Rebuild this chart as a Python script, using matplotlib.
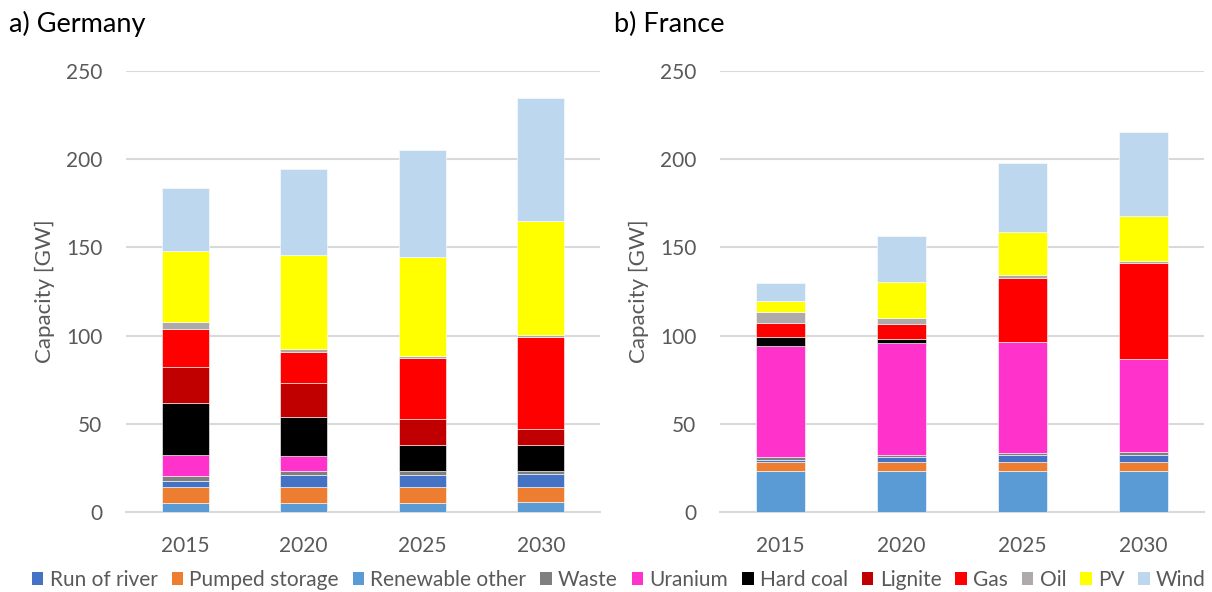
import matplotlib
matplotlib.use("Agg")
import matplotlib.pyplot as plt
from matplotlib.patches import Patch
import numpy as np

plt.rcParams['font.family'] = ['Lato', 'DejaVu Sans']

years = ["2015", "2020", "2025", "2030"]
# stack order bottom-up
stack_names = ["Renewable other", "Pumped storage", "Run of river", "Waste", "Uranium",
               "Hard coal", "Lignite", "Gas", "Oil", "PV", "Wind"]
legend_order = ["Run of river", "Pumped storage", "Renewable other", "Waste", "Uranium",
                "Hard coal", "Lignite", "Gas", "Oil", "PV", "Wind"]
colors = {
    "Run of river": "#4472C4",
    "Pumped storage": "#ED7D31",
    "Renewable other": "#5B9BD5",
    "Waste": "#7F7F7F",
    "Uranium": "#FF33CC",
    "Hard coal": "#000000",
    "Lignite": "#C00000",
    "Gas": "#FF0000",
    "Oil": "#AEAAAA",
    "PV": "#FFFF00",
    "Wind": "#BDD7EE",
}

# Germany (GW)
de_renewable_other = [5.3, 5.3, 5.3, 5.5]
de_pumped_storage = [8.9, 8.9, 8.9, 8.8]
de_run_of_river = [3.2, 7.0, 7.0, 7.0]
de_waste = [3.2, 2.3, 2.1, 1.9]
de_uranium = [11.9, 8.3, 0.0, 0.0]
de_hard_coal = [29.5, 22.3, 14.9, 14.9]
de_lignite = [20.4, 18.9, 14.4, 9.1]
de_gas = [21.5, 17.9, 34.6, 52.2]
de_oil = [3.8, 1.7, 1.3, 1.1]
de_pv = [40.1, 53.1, 56.1, 64.3]
de_wind = [35.7, 48.9, 60.5, 69.7]

# France (GW)
fr_renewable_other = [23.4, 23.4, 23.4, 23.4]
fr_pumped_storage = [5.1, 5.1, 5.1, 5.1]
fr_run_of_river = [1.0, 2.8, 4.0, 4.0]
fr_waste = [1.5, 1.0, 1.1, 1.3]
fr_uranium = [62.9, 63.3, 62.7, 53.1]
fr_hard_coal = [5.1, 2.6, 0.0, 0.0]
fr_lignite = [0.0, 0.0, 0.0, 0.0]
fr_gas = [8.3, 8.5, 36.1, 54.0]
fr_oil = [6.0, 3.2, 1.7, 1.3]
fr_pv = [6.1, 20.6, 24.5, 25.5]
fr_wind = [10.2, 25.9, 39.5, 47.6]

de = dict(zip(stack_names, [de_renewable_other, de_pumped_storage, de_run_of_river, de_waste,
                            de_uranium, de_hard_coal, de_lignite, de_gas, de_oil, de_pv, de_wind]))
fr = dict(zip(stack_names, [fr_renewable_other, fr_pumped_storage, fr_run_of_river, fr_waste,
                            fr_uranium, fr_hard_coal, fr_lignite, fr_gas, fr_oil, fr_pv, fr_wind]))

W, H = 1212, 592
fig = plt.figure(figsize=(W / 100, H / 100), dpi=100)

def px_axes(x0, x1, y_top, y_bot):
    return fig.add_axes([x0 / W, 1 - y_bot / H, (x1 - x0) / W, (y_bot - y_top) / H])

gray_txt = "#595959"
grid_c = "#D9D9D9"

def draw(ax, data, title, title_x):
    x = np.arange(len(years))
    bottom = np.zeros(len(years))
    for name in stack_names:
        vals = np.array(data[name])
        ax.bar(x, vals, width=0.40, bottom=bottom, color=colors[name],
               edgecolor="white", linewidth=0.4, zorder=3)
        bottom += vals
    ax.set_xlim(-0.5, len(years) - 0.5)
    ax.set_ylim(0, 250)
    ax.set_yticks(np.arange(0, 251, 50))
    ax.set_xticks(x)
    ax.set_xticklabels(years)
    ax.grid(axis="y", color=grid_c, linewidth=1.5, zorder=0)
    ax.set_axisbelow(True)
    for s in ["top", "right", "left"]:
        ax.spines[s].set_visible(False)
    ax.spines["bottom"].set_color(grid_c)
    ax.spines["bottom"].set_linewidth(1.5)
    ax.tick_params(axis="both", length=0, labelsize=15, labelcolor=gray_txt)
    ax.tick_params(axis="y", pad=17)
    ax.tick_params(axis="x", pad=17)
    ax.set_ylabel("Capacity [GW]", fontsize=16, color=gray_txt, labelpad=8)
    fig.text(title_x / W, 1 - 24 / H, title, fontsize=19.5, color="black",
             ha="left", va="center")

ax1 = px_axes(126, 600, 71, 512)
draw(ax1, de, "a) Germany", 9)
ax2 = px_axes(720, 1204, 71, 512)
draw(ax2, fr, "b) France", 614)

handles = [Patch(facecolor=colors[n], edgecolor="none") for n in legend_order]
fig.legend(handles, legend_order, loc="center", bbox_to_anchor=(619 / W, 1 - 580 / H),
           ncol=len(legend_order), frameon=False, fontsize=15, labelcolor=gray_txt,
           handlelength=0.55, handleheight=0.55, handletextpad=0.3, columnspacing=0.67,
           borderpad=0, borderaxespad=0)

fig.savefig("out.png", dpi=100)
